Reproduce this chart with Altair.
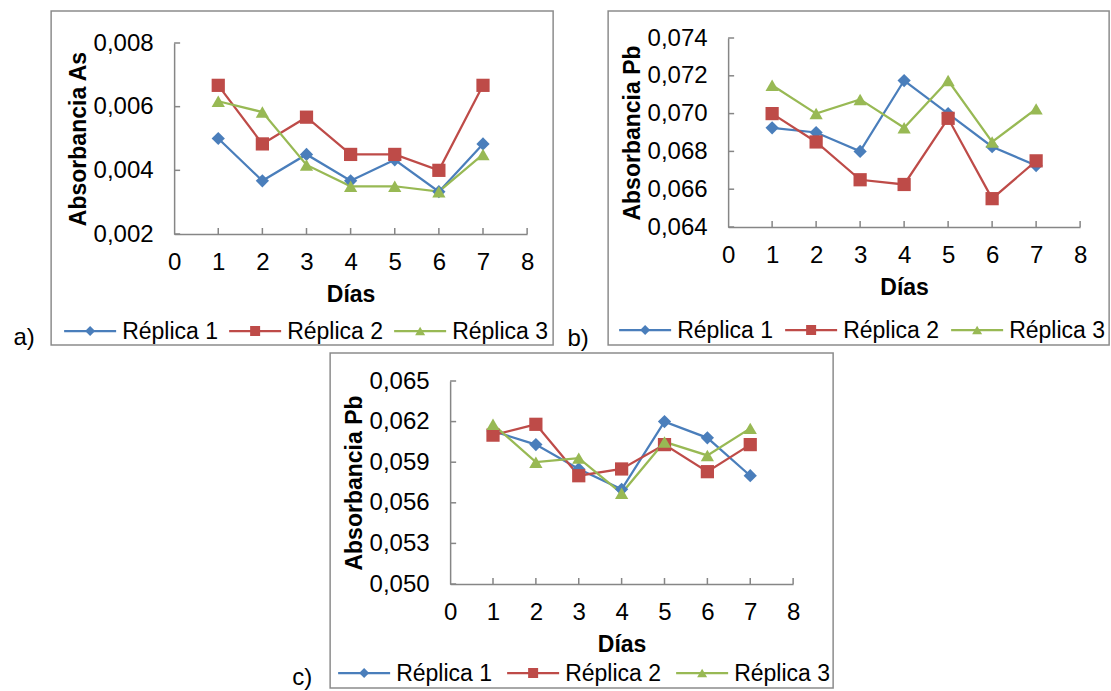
import altair as alt
import pandas as pd

# ---------------- data ----------------
dias = [1, 2, 3, 4, 5, 6, 7]
series = ["Réplica 1", "Réplica 2", "Réplica 3"]
colors = ["#4A7EBB", "#BE4B48", "#98B954"]
shapes = ["diamond", "square", "triangle-up"]
x_ticks = [0, 1, 2, 3, 4, 5, 6, 7, 8]

a_r1 = [0.00500, 0.00367, 0.00450, 0.00367, 0.00433, 0.00333, 0.00483]
a_r2 = [0.00667, 0.00483, 0.00567, 0.00450, 0.00450, 0.00400, 0.00667]
a_r3 = [0.00617, 0.00583, 0.00417, 0.00350, 0.00350, 0.00333, 0.00450]
a_yticks = [0.002, 0.004, 0.006, 0.008]

b_r1 = [0.06925, 0.06900, 0.06800, 0.07175, 0.07000, 0.06825, 0.06725]
b_r2 = [0.07000, 0.06850, 0.06650, 0.06625, 0.06975, 0.06550, 0.06750]
b_r3 = [0.07150, 0.07000, 0.07075, 0.06925, 0.07175, 0.06850, 0.07025]
b_yticks = [0.064, 0.066, 0.068, 0.070, 0.072, 0.074]

c_r1 = [0.0613, 0.0603, 0.0585, 0.0570, 0.0620, 0.0608, 0.0580]
c_r2 = [0.0610, 0.0618, 0.0580, 0.0585, 0.0603, 0.0583, 0.0603]
c_r3 = [0.0618, 0.0590, 0.0593, 0.0567, 0.0605, 0.0595, 0.0615]
c_yticks = [0.050, 0.053, 0.056, 0.059, 0.062, 0.065]

GRAY = "#868686"
FONT = "Liberation Sans"
LABEL_EXPR = "replace(format(datum.value, '.3f'), '.', ',')"


def panel(r1, r2, r3, yticks, ytitle, letter, w, h, ytop, frame, letter_pos, legend_pos):
    df = pd.DataFrame({
        "Día": dias * 3,
        "Abs": r1 + r2 + r3,
        "Serie": [s for s in series for _ in dias],
    })
    xs = alt.Scale(domain=[0, 8], nice=False, zero=False)
    ys = alt.Scale(domain=[yticks[0], yticks[-1]], range=[h, ytop], nice=False, zero=False)
    X = alt.X("Día:Q", scale=xs, axis=alt.Axis(
        values=x_ticks, title="Días", labelPadding=16, titlePadding=9,
        ticks=False, labelFlush=False, labelOverlap=False))
    Y = alt.Y("Abs:Q", scale=ys, axis=alt.Axis(
        values=yticks, title=ytitle, labelExpr=LABEL_EXPR, labelPadding=21,
        titlePadding=3, ticks=False, labelFlush=False, labelOverlap=False))
    col = alt.Color("Serie:N", scale=alt.Scale(domain=series, range=colors), legend=None)
    shp = alt.Shape("Serie:N", scale=alt.Scale(domain=series, range=shapes), legend=None)

    lines = alt.Chart(df).mark_line(strokeWidth=2.25).encode(x=X, y=Y, color=col)
    pts = alt.Chart(df).mark_point(filled=True, size=175, opacity=1).encode(
        x=X, y=Y, color=col, shape=shp)

    # inward tick marks
    ytick_df = pd.DataFrame({"Abs": yticks})
    xtick_df = pd.DataFrame({"Día": x_ticks[1:]})
    yt = alt.Chart(ytick_df).mark_rule(color=GRAY, strokeWidth=1.5).encode(
        y=Y, x=alt.value(0), x2=alt.value(6))
    xt = alt.Chart(xtick_df).mark_rule(color=GRAY, strokeWidth=1.5).encode(
        x=X, y=alt.value(h), y2=alt.value(h - 6))

    one = pd.DataFrame({"k": [0]})
    fl, fr, ft, fb = frame
    box = alt.Chart(one).mark_rect(fillOpacity=0, stroke="#8C8C8C", strokeWidth=1.5).encode(
        x=alt.value(fl), x2=alt.value(fr), y=alt.value(ft), y2=alt.value(fb))
    lab = alt.Chart(one).mark_text(text=letter, fontSize=24, font=FONT, color="black",
                                   align="center", baseline="alphabetic").encode(
        x=alt.value(letter_pos[0]), y=alt.value(letter_pos[1]))

    # legend: line + marker + label for each series, laid out in one row
    lx0, ly, step = legend_pos
    leg_df = pd.DataFrame({"Serie": series, "i": list(range(len(series)))})
    leg = alt.Chart(leg_df).transform_calculate(
        lx=f"{lx0} + datum.i * {step}",
        lx2=f"{lx0} + 52 + datum.i * {step}",
        lm=f"{lx0} + 26 + datum.i * {step}",
        lt=f"{lx0} + 58 + datum.i * {step}",
    )
    leg_line = leg.mark_rule(strokeWidth=2.25).encode(
        x=alt.X("lx:Q", scale=None, axis=None), x2="lx2:Q", y=alt.value(ly), color=col)
    leg_pt = leg.mark_point(filled=True, size=100, opacity=1).encode(
        x=alt.X("lm:Q", scale=None, axis=None), y=alt.value(ly), color=col, shape=shp)
    leg_txt = leg.mark_text(fontSize=23, font=FONT, color="black", align="left",
                            baseline="middle", dy=1).encode(
        x=alt.X("lt:Q", scale=None, axis=None), y=alt.value(ly), text="Serie:N")

    return alt.layer(box, lab, lines, yt, xt, pts, leg_line, leg_pt, leg_txt).properties(
        width=w, height=h)


# both top panels share the same view origin (page y = 38); panel a's data area starts 5px lower
pa = panel(a_r1, a_r2, a_r3, a_yticks, "Absorbancia As", "a)", 353, 196, 5,
           (-123, 379, -27, 307), (-150, 307), (-110, 293, 165))
pb = panel(b_r1, b_r2, b_r3, b_yticks, "Absorbancia Pb", "b)", 352, 189, 0,
           (-120, 381, -27, 307), (-150, 308), (-109, 292, 166))
pc = panel(c_r1, c_r2, c_r3, c_yticks, "Absorbancia Pb", "c)", 343, 203, 0,
           (-120, 383, -28, 307), (-148, 304), (-112, 292, 169))

top = alt.hconcat(pa, pb, spacing=13)
chart = alt.vconcat(top, pc, spacing=1, center=True)

chart = chart.properties(
    padding={"left": 13, "top": 10, "right": 0, "bottom": 0},
    background="white",
).configure(font=FONT).configure_view(strokeWidth=0).configure_axis(
    labelFontSize=24, labelColor="black", labelFont=FONT,
    titleFontSize=23, titleColor="black", titleFontWeight="bold", titleFont=FONT,
    domainColor=GRAY, domainWidth=1.5, grid=False,
)

chart.save("out.html", embed_options={"renderer": "svg", "actions": False})
